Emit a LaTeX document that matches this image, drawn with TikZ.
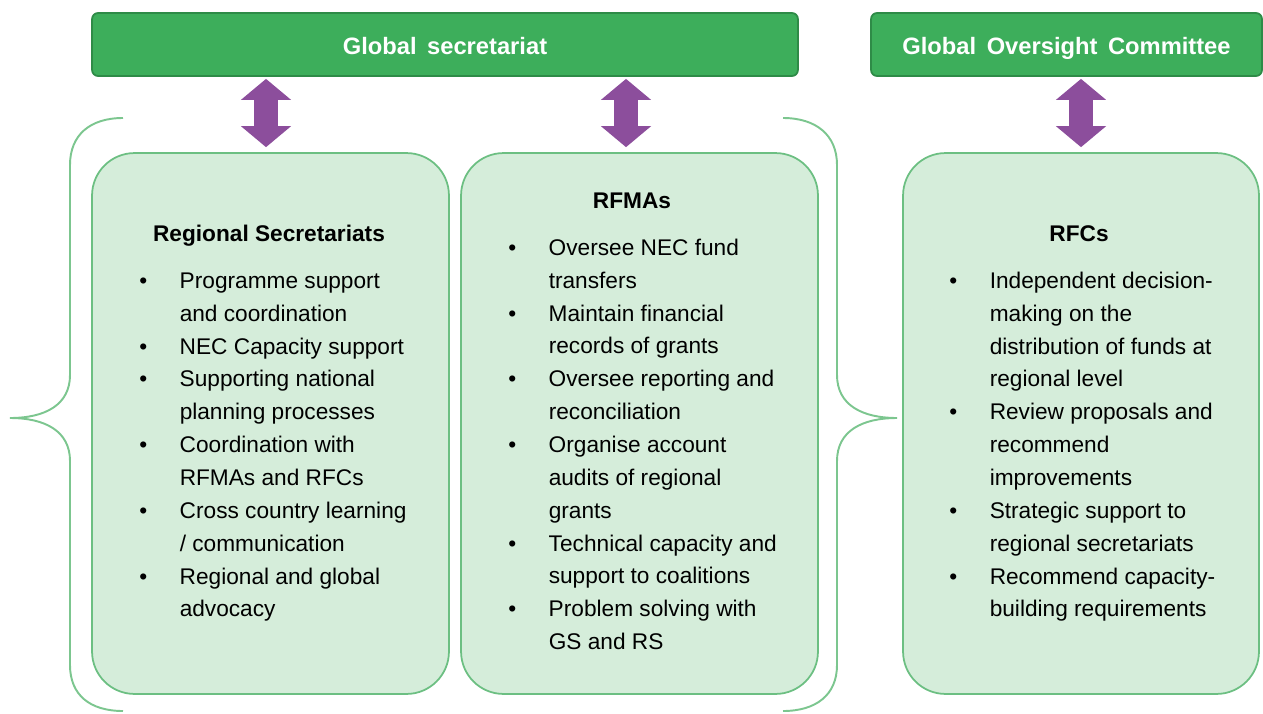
\documentclass[tikz,border=0pt]{standalone}
\usepackage{fontspec}
\setmainfont{Liberation Sans}
\newfontfamily\headfont[WordSpace=1.6]{Liberation Sans}
\usetikzlibrary{arrows.meta}
\definecolor{headgreen}{HTML}{3DAE5B}
\definecolor{headborder}{HTML}{2E8B47}
\definecolor{panelfill}{HTML}{D5EDDA}
\definecolor{panelborder}{HTML}{6CBF82}
\definecolor{bracegreen}{HTML}{7CC68F}
\definecolor{linkpurple}{HTML}{8C4E9C}
\newcommand{\bul}{\makebox[23pt][l]{\strut\textbullet}}
\newcommand{\ind}{\hspace*{23pt}}
\tikzset{%
  head/.style   = {draw=headborder, fill=headgreen, line width=1pt,
    rounded corners=0.12cm, minimum height=1.26cm, text=white,
    text height=13pt, text depth=1.6pt,
    font=\headfont\bfseries\fontsize{13.5}{16}\selectfont}, % Global bodies
  panel/.style  = {draw=panelborder, fill=panelfill, line width=1pt,
    rounded corners=0.85cm, minimum width=7.14cm, minimum height=10.82cm}, % Regional bodies
  title/.style  = {anchor=base, font=\bfseries\fontsize{12.9}{18.7}\selectfont},
  items/.style  = {anchor=north west, align=left, inner sep=0pt,
    font=\fontsize{12.9}{18.7}\selectfont},
  link/.style   = {draw=linkpurple, line width=0.48cm,
    {Triangle[length=0.42cm, width=0.98cm]}-{Triangle[length=0.42cm, width=0.98cm]},
    shorten <=0.04cm, shorten >=0.1cm},
  brace/.style  = {draw=bracegreen, line width=1.1pt}
}

\begin{document}
\begin{tikzpicture}[x=0.02cm, y=-0.02cm]
    \useasboundingbox (0,0) rectangle (1263,713);
        \draw
        node at(445,44.5)[head, name=GlobSec, minimum width=14.12cm]{Global secretariat}
        node at(1066.5,44.5)[head, name=GlobOC, minimum width=7.82cm]{Global Oversight Committee};
        \draw
        node at(270.5,423.5)[panel, name=RegSec]{}
        node at(639.5,423.5)[panel, name=RegFMA]{}
        node at(1081,423.5)[panel, name=RegFC, minimum width=7.12cm]{};
        % titles
        \node[title, name=RegSecTitle] at (269,241) {Regional Secretariats};
        \node[title, name=RegFMATitle] at (632,208) {RFMAs};
        \node[title, name=RegFCTitle] at (1079,241) {RFCs};
        % bullet lists
        \node[items, name=RegSecList] at (139,265) {%
          \bul Programme support\\ \ind and coordination\\
          \bul NEC Capacity support\\
          \bul Supporting national\\ \ind planning processes\\
          \bul Coordination with\\ \ind RFMAs and RFCs\\
          \bul Cross country learning\\ \ind / communication\\
          \bul Regional and global\\ \ind advocacy};
        \node[items, name=RegFMAList] at (508,232) {%
          \bul Oversee NEC fund\\ \ind transfers\\
          \bul Maintain financial\\ \ind records of grants\\
          \bul Oversee reporting and\\ \ind reconciliation\\
          \bul Organise account\\ \ind audits of regional\\ \ind grants\\
          \bul Technical capacity and\\ \ind support to coalitions\\
          \bul Problem solving with\\ \ind GS and RS};
        \node[items, name=RegFCList] at (949,265) {%
          \bul Independent decision-\\ \ind making on the\\
          \ind distribution of funds at\\ \ind regional level\\
          \bul Review proposals and\\ \ind recommend\\ \ind improvements\\
          \bul Strategic support to\\ \ind regional secretariats\\
          \bul Recommend capacity-\\ \ind building requirements};
        % links
        \draw[link] ([xshift=-0.09cm]GlobSec.south -| RegSec.north) -- ([xshift=-0.09cm]RegSec.north);
        \draw[link] ([xshift=-0.27cm]GlobSec.south -| RegFMA.north) -- ([xshift=-0.27cm]RegFMA.north);
        \draw[link] (GlobOC.south -| RegFC.north) -- (RegFC.north);
        % braces
        \draw[brace] (123,118) .. controls (90,118) and (70,135) .. (70,165) -- (70,375)
          .. controls (70,405) and (45,418) .. (10,418)
          .. controls (45,418) and (70,431) .. (70,461) -- (70,665)
          .. controls (70,695) and (90,711) .. (123,711);
        \draw[brace] (783,118) .. controls (816,118) and (837,135) .. (837,165) -- (837,375)
          .. controls (837,405) and (862,418) .. (897,418)
          .. controls (862,418) and (837,431) .. (837,461) -- (837,665)
          .. controls (837,695) and (816,711) .. (783,711);
    \end{tikzpicture}
\end{document}
